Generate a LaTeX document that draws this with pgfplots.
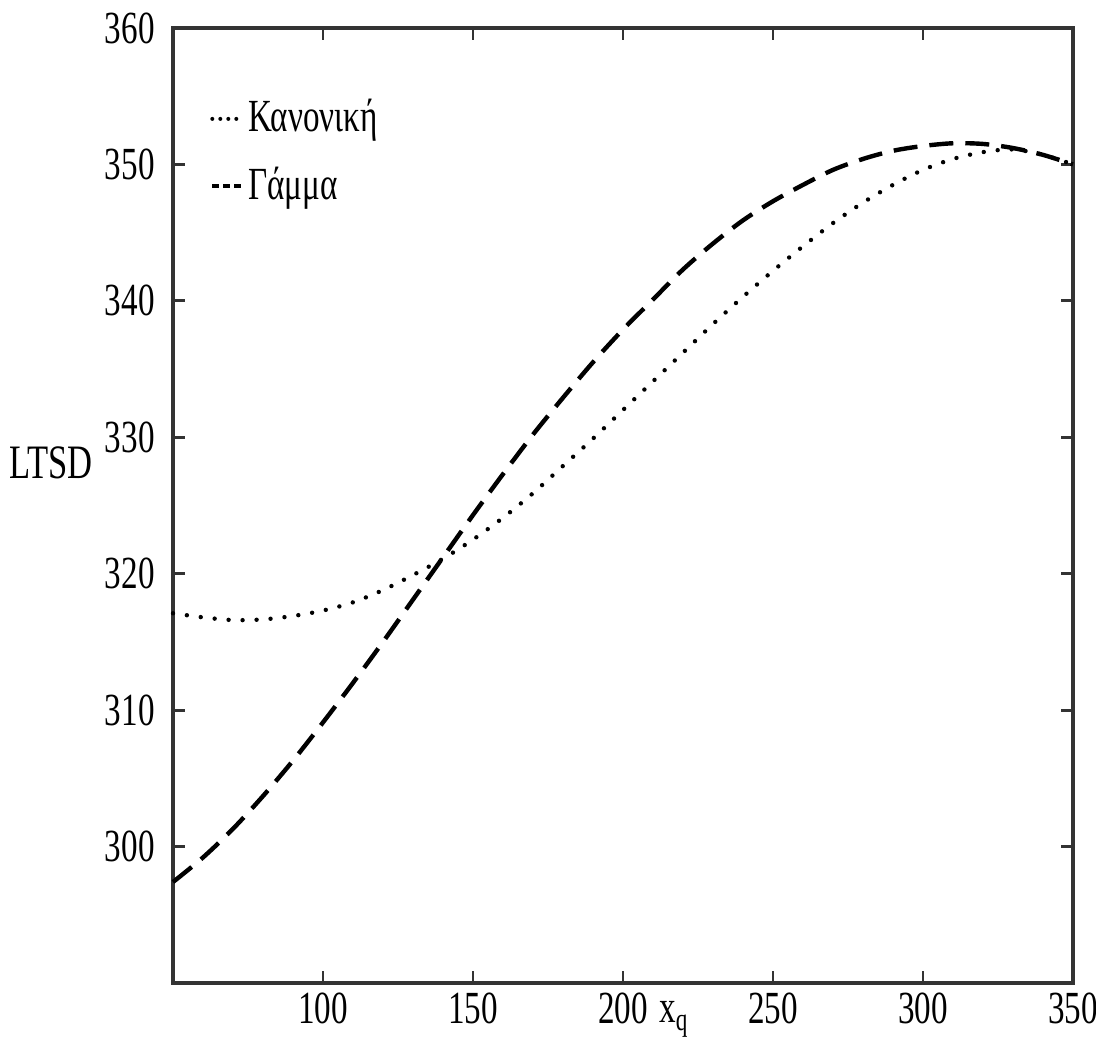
\documentclass[border=0pt]{standalone}
\usepackage{fontspec}
\setmainfont{Liberation Serif}[FakeStretch=0.72]
\usepackage{pgfplots}
\pgfplotsset{compat=1.18}
\begin{document}
\fontsize{23}{27}\selectfont
\begin{tikzpicture}
\begin{axis}[
  scale only axis,
  width=450pt, height=477.5pt,
  xmin=50, xmax=350, ymin=290, ymax=360,
  xtick={100,150,200,250,300,350},
  ytick={300,310,320,330,340,350,360},
  tick align=inside,
  major tick length=6pt,
  axis line style={line width=1.8pt, black!80},
  every tick/.style={line width=1.4pt, black!80},
  /pgf/number format/assume math mode=true,
  yticklabel style={inner sep=0pt, xshift=-9pt},
  xticklabel style={inner sep=0pt, yshift=-5pt},
  legend style={at={(rel axis cs:0.041,0.93)}, anchor=north west, draw=none, fill=none,
    row sep=10pt, inner sep=0pt, nodes={inner sep=2pt}},
  legend cell align=left,
  legend image code/.code={\draw[#1] (0pt,0pt) -- (15pt,0pt);},
  clip=false,
]
\addplot[black, line width=2.2pt, line cap=round, dash pattern=on 0pt off 7pt, smooth,
  legend image post style={dash pattern=on 0pt off 4pt, line width=2pt}] coordinates {
(50,317.1) (60,316.8) (70,316.6) (80,316.65) (90,316.9) (100,317.3) (110,317.9)
(120,318.8) (130,319.9) (140,321.1) (150,322.5) (160,324.1) (170,325.9) (180,327.9)
(190,329.9) (200,332.0) (210,334.1) (220,336.2) (230,338.3) (240,340.3) (250,342.2)
(260,344.0) (270,345.7) (280,347.2) (290,348.5) (300,349.6) (310,350.4) (320,350.9)
(330,351.1) (340,350.7) (350,350.0)};
\addlegendentry{Κανονική}
\addplot[black, line width=2.2pt, dash pattern=on 12pt off 6pt, smooth,
  legend image post style={dash pattern=on 3.5pt off 2pt, line width=2pt}] coordinates {
(50,297.4) (60,299.2) (70,301.3) (80,303.7) (90,306.3) (100,309.1) (110,312.0)
(120,315.0) (130,318.1) (140,321.2) (150,324.3) (160,327.3) (170,330.2) (180,332.9)
(190,335.5) (200,337.9) (210,340.1) (220,342.3) (230,344.2) (240,345.9) (250,347.3)
(260,348.5) (270,349.6) (280,350.4) (290,351.0) (300,351.35) (310,351.55) (320,351.5)
(330,351.2) (340,350.7) (350,350.0)};
\addlegendentry{Γάμμα}
\node[anchor=east, inner sep=0pt, font=\fontsize{24}{28}\selectfont] at (rel axis cs:0,0.545) [xshift=-40pt] {LTSD};
\node[anchor=base, inner sep=0pt] at (axis cs:217,290) [yshift=-20pt] {x\textsubscript{q}};
\end{axis}
\pgfresetboundingbox
\path ([shift={(-86.5pt,-27pt)}]current axis.south west) rectangle ([shift={(11.5pt,14pt)}]current axis.north east);
\end{tikzpicture}
\end{document}
